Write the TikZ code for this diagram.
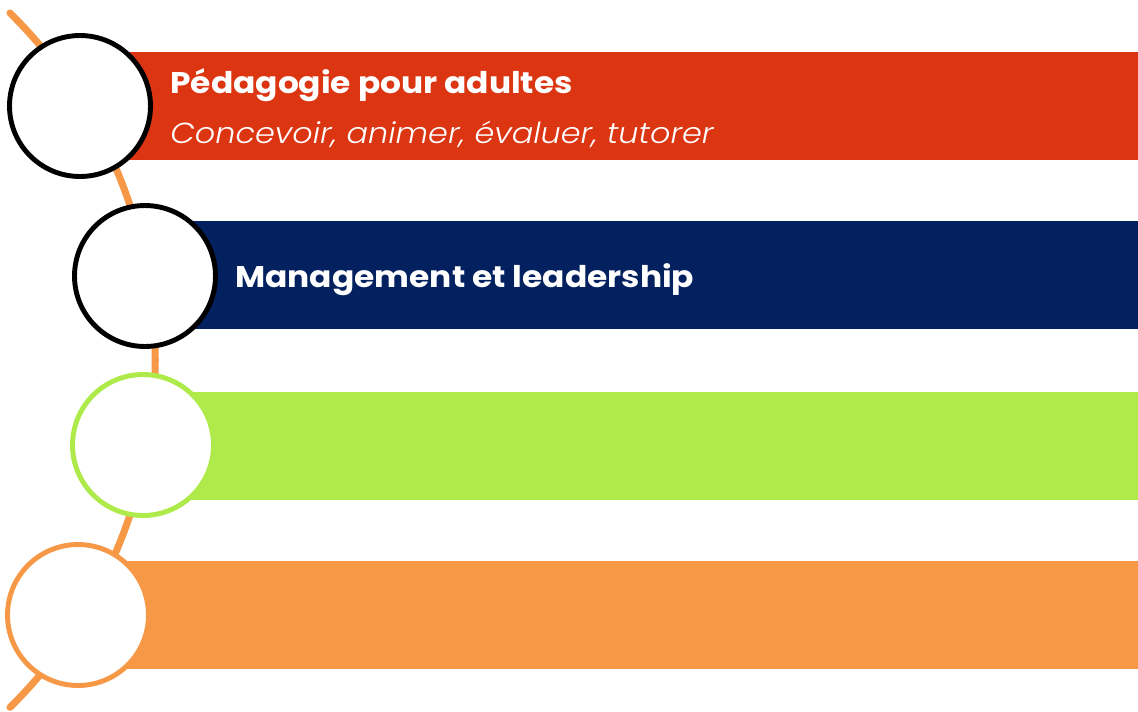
\documentclass[tikz,border=0pt]{standalone}
\usepackage{fontspec}
\setmainfont{Poppins}[ItalicFont={Poppins Light Italic},FakeStretch=1.1]
\usepackage{tikz}
\definecolor{barred}{HTML}{DC3512}
\definecolor{barnavy}{HTML}{03205F}
\definecolor{bargreen}{HTML}{AEEA4A}
\definecolor{barorange}{HTML}{F79847}

\begin{document}
\begin{tikzpicture}[x=0.02cm,y=-0.02cm,
    spine/.style={draw=barorange,line width=4pt,line cap=round},
    disc/.style={circle,draw,fill=white,line width=2.8pt,minimum size=2.82cm,inner sep=0pt},
    title/.style={anchor=base west,text=white,font=\fontsize{17}{19}\selectfont\bfseries,inner sep=0pt},
    subtitle/.style={anchor=base west,text=white,font=\fontsize{16.5}{18}\selectfont\itshape,inner sep=0pt}]
    \useasboundingbox (0,0) rectangle (1138,711);
    % the curved spine
    \coordinate (top) at (10,13);
    \draw[spine] (top) arc[start angle=45.4,end angle=-45.4,radius=9.754cm];
    % bars
    \fill[barred]    (120,52)  rectangle (1138,160);
    \fill[barnavy]   (185,221) rectangle (1138,329);
    \fill[bargreen]  (185,392) rectangle (1138,500);
    \fill[barorange] (120,561) rectangle (1138,669);
    % circles
    \node[disc,draw=black]     (c1) at (80,106)  {};
    \node[disc,draw=black]     (c2) at (145,276) {};
    \node[disc,draw=bargreen]  (c3) at (143,445) {};
    \node[disc,draw=barorange] (c4) at (78,615)  {};
    % texts
    \node[title]    (t1) at (170,93)  {Pédagogie pour adultes};
    \node[subtitle] (s1) at (170,143) {Concevoir, animer, évaluer, tutorer};
    \node[title]    (t2) at (235,287) {Management et leadership};
\end{tikzpicture}
\end{document}
